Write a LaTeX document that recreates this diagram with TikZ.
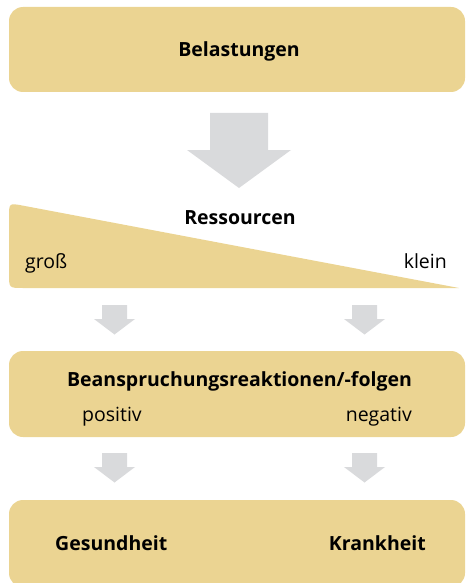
\documentclass[tikz,border=0pt]{standalone}
\usepackage{fontspec}
\setmainfont{Open Sans}
\definecolor{boxyellow}{HTML}{EBD492}
\definecolor{arrowgray}{HTML}{D9DADC}
\begin{document}
\begin{tikzpicture}[x=1pt,y=-1pt,
  panel/.style={fill=boxyellow,rounded corners=14pt},
  blockarrow/.style={fill=arrowgray},
  ttl/.style={font=\fontsize{19.5}{22}\selectfont\bfseries,inner sep=0pt},
  lbl/.style={font=\fontsize{19.5}{22}\selectfont,inner sep=0pt}]
\useasboundingbox (0,0) rectangle (466,583);
% boxes
\fill[panel] (9,7) rectangle (465,92);
\fill[panel] (9,351) rectangle (465,437);
\fill[panel] (9,500) rectangle (465,587);
% wedge
\fill[boxyellow] (459,288) -- (23,288) .. controls (9,288) .. (9,274) -- (9,217) .. controls (9,203) .. (22.8,205.6) -- cycle;
% big arrow
\fill[blockarrow] (210,113) -- (268,113) -- (268,150) -- (291,150) -- (239,188) -- (187,150) -- (210,150) -- cycle;
% small arrows
\foreach \cx/\ty in {114.5/305, 364.5/305, 114.5/453, 364.5/453}{
  \fill[blockarrow] (\cx-12.5,\ty) -- (\cx+12.5,\ty) -- (\cx+12.5,\ty+14) -- (\cx+20.5,\ty+14) -- (\cx,\ty+29.5) -- (\cx-20.5,\ty+14) -- (\cx-12.5,\ty+14) -- cycle;
}
% texts
\node[ttl,anchor=base] (bel) at (239,57) {Belastungen};
\node[ttl,anchor=base] (res) at (240,224.3) {Ressourcen};
\node[lbl,anchor=base west] (gross) at (25,268) {groß};
\node[lbl,anchor=base east] (klein) at (447,268) {klein};
\node[ttl,anchor=base] (bean) at (239.5,386.7) {Beanspruchungsreaktionen/-folgen};
\node[lbl,anchor=base west] (pos) at (82,421) {positiv};
\node[lbl,anchor=base east] (neg) at (412,421) {negativ};
\node[ttl,anchor=base west] (ges) at (55,550) {Gesundheit};
\node[ttl,anchor=base east] (kra) at (426,550) {Krankheit};
\end{tikzpicture}
\end{document}
